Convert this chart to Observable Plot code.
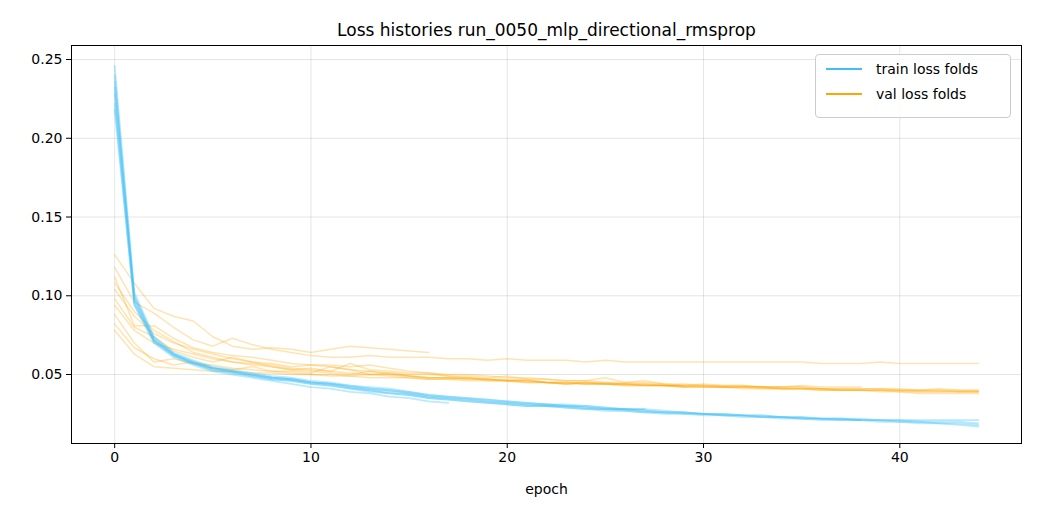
<!DOCTYPE html>
<html><head><meta charset="utf-8">
<script src="https://cdn.jsdelivr.net/npm/d3@7"></script>
<script src="https://cdn.jsdelivr.net/npm/@observablehq/plot@0.6"></script>
<style>body{margin:0;background:#fff;font-family:"DejaVu Sans",sans-serif}#wrap{position:relative;width:1040px;height:520px}
#legend{position:absolute;left:815px;top:54px;width:194px;height:62px;border:1px solid #ccc;border-radius:4px;background:rgba(255,255,255,0.85);font-size:14px}
.li{position:absolute;left:10px;display:flex;align-items:center}.li span{display:inline-block;width:36px;height:2px;margin-right:14px}</style>
</head><body><div id="wrap"><div id="legend">
<div class="li" style="top:6px"><span style="background:#40bff5"></span>train loss folds</div>
<div class="li" style="top:31px"><span style="background:#ffa500"></span>val loss folds</div></div></div>
<script>
const title = "Loss histories run_0050_mlp_directional_rmsprop";
const trainFolds = [
 [0.246,0.102,0.074,0.064,0.059,0.055,0.053,0.051,0.049,0.048,0.046,0.045,0.043,0.042,0.041,0.039,0.037,0.036,0.035,0.034,0.033,0.032,0.031,0.030,0.030,0.029,0.028,0.028,0.027,0.026,0.025,0.025,0.024,0.024,0.023,0.023,0.022,0.022,0.022,0.021,0.021,0.020,0.020,0.020,0.019],
 [0.236,0.098,0.072,0.063,0.058,0.054,0.052,0.050,0.048,0.047,0.045,0.044,0.042,0.040,0.039,0.038,0.036,0.035,0.034,0.033,0.032,0.031,0.030,0.030,0.029,0.028,0.028,0.027,0.026,0.026,0.025,0.024,0.024,0.023,0.023,0.022,0.022,0.021,0.021,0.021,0.020,0.020,0.019,0.019,0.018],
 [0.228,0.096,0.071,0.062,0.057,0.053,0.051,0.049,0.047,0.046,0.044,0.043,0.041,0.040,0.038,0.037,0.035,0.034,0.033,0.032,0.031,0.030,0.030,0.029,0.028,0.028,0.027,0.026,0.026,0.025,0.025,0.024,0.024,0.023,0.023,0.022,0.022,0.022,0.021,0.021,0.021,0.021,0.021,0.021,0.021],
 [0.222,0.094,0.070,0.061,0.056,0.052,0.050,0.048,0.046,0.044,0.042,0.041,0.039,0.038,0.036,0.035,0.033,0.032],
 [0.240,0.100,0.073,0.063,0.058,0.054,0.052,0.050,0.048,0.047,0.045,0.044,0.043,0.041,0.040,0.039,0.037,0.036,0.035,0.034,0.033,0.032,0.031,0.031,0.030,0.029,0.028,0.028],
 [0.232,0.099,0.072,0.063,0.057,0.054,0.052,0.050,0.048,0.047,0.045,0.044,0.042,0.041,0.040,0.038,0.036,0.035,0.034,0.033,0.032,0.031,0.031,0.030,0.029,0.028,0.028,0.027,0.026,0.026,0.025,0.025,0.024,0.024,0.023,0.023,0.022,0.022,0.021],
 [0.218,0.095,0.071,0.062,0.057,0.053,0.051,0.049,0.047,0.046,0.044,0.043,0.041,0.039,0.038,0.037,0.035,0.034,0.033,0.032,0.031,0.030,0.030,0.029,0.028,0.027,0.027,0.026,0.025,0.025,0.024,0.024,0.023,0.023,0.022,0.022,0.021,0.021,0.021,0.020,0.020,0.019,0.019,0.018,0.017]
];
const valFolds = [
 [0.126,0.108,0.092,0.087,0.084,0.074,0.068,0.066,0.067,0.066,0.064,0.066,0.068,0.067,0.066,0.065,0.064],
 [0.118,0.096,0.089,0.080,0.072,0.068,0.073,0.069,0.066,0.064,0.062,0.061,0.061,0.062,0.061,0.061,0.061,0.060,0.060,0.059,0.060,0.059,0.059,0.059,0.058,0.059,0.058,0.058,0.058,0.058,0.058,0.058,0.058,0.058,0.058,0.058,0.057,0.057,0.057,0.058,0.057,0.057,0.057,0.057,0.057],
 [0.112,0.081,0.081,0.073,0.067,0.064,0.062,0.061,0.059,0.057,0.056,0.055,0.053,0.052,0.051,0.050,0.050,0.049,0.048,0.047,0.047,0.046,0.045,0.045,0.044,0.044,0.044,0.043,0.043,0.042,0.042,0.042,0.042,0.041,0.041,0.041,0.040,0.040,0.040,0.040,0.040,0.039,0.039,0.039,0.039],
 [0.104,0.087,0.076,0.070,0.066,0.063,0.060,0.058,0.057,0.055,0.056,0.056,0.055,0.056,0.054,0.052,0.051,0.050,0.050,0.049,0.048,0.048,0.047,0.046,0.046,0.045,0.045,0.045,0.044,0.044,0.043,0.043,0.043,0.042,0.042,0.042,0.041,0.041,0.041,0.041,0.041,0.040,0.040,0.040,0.040],
 [0.098,0.080,0.074,0.065,0.061,0.058,0.061,0.058,0.055,0.053,0.054,0.052,0.057,0.053,0.052,0.051,0.051,0.049,0.049,0.048,0.049,0.047,0.047,0.046,0.046,0.048,0.045,0.046,0.044,0.043],
 [0.094,0.078,0.070,0.066,0.063,0.060,0.058,0.056,0.055,0.053,0.052,0.051,0.050,0.052,0.050,0.049,0.048,0.048,0.047,0.047,0.046,0.046,0.045,0.045,0.044,0.044,0.043,0.043,0.043,0.042,0.042,0.042,0.041,0.041,0.041,0.041,0.040,0.040,0.040,0.039,0.039,0.038,0.038,0.038,0.038],
 [0.088,0.070,0.058,0.060,0.057,0.056,0.054,0.053,0.052,0.052,0.051,0.055,0.053,0.050,0.051,0.049,0.048,0.048,0.048,0.047,0.046,0.047,0.045,0.044,0.045,0.045,0.044,0.044,0.043,0.043,0.044,0.043,0.043,0.042,0.042,0.043,0.042,0.042,0.042],
 [0.082,0.067,0.060,0.056,0.058,0.054,0.053,0.055,0.052,0.051,0.050,0.050,0.049,0.050,0.049,0.048,0.047,0.047,0.048,0.046,0.046,0.045,0.045,0.044,0.045,0.044,0.044,0.043,0.043,0.042,0.043,0.042,0.042,0.042,0.041,0.041,0.041,0.040,0.040,0.040,0.039,0.039,0.039,0.039,0.039],
 [0.078,0.063,0.055,0.054,0.053,0.052,0.052,0.051,0.051,0.050,0.050,0.049,0.049,0.048,0.048,0.048,0.047,0.047,0.046,0.046,0.046,0.045,0.045,0.044,0.044,0.044,0.043,0.043,0.043,0.043,0.042,0.042,0.042,0.042,0.041,0.041,0.041,0.040,0.040,0.040,0.040,0.040,0.040,0.039,0.039],
 [0.108,0.090,0.078,0.071,0.064,0.061,0.058,0.057,0.056,0.054,0.053,0.052,0.051,0.050,0.050,0.049,0.048,0.048,0.047,0.047,0.046,0.046,0.045,0.045,0.045,0.044,0.044,0.044,0.043,0.043,0.043,0.042,0.042,0.042,0.042,0.042,0.041,0.041,0.041,0.041,0.040,0.040,0.041,0.040,0.040]
];
const xTicks = [0,10,20,30,40];
const yTicks = [0.05,0.10,0.15,0.20,0.25];
const toRows = (folds) => folds.flatMap((f, k) => f.map((v, i) => ({fold: k, epoch: i, loss: v})));
const tr = toRows(trainFolds), va = toRows(valFolds);
const chart = Plot.plot({
  width: 1040, height: 520, marginLeft: 71, marginRight: 19, marginTop: 45, marginBottom: 77,
  style: {fontFamily: "DejaVu Sans, sans-serif", fontSize: "14px", color: "#000", background: "#fff"},
  x: {domain: [-2.2, 46.2], ticks: xTicks, tickFormat: d => d, label: "epoch", labelAnchor: "center", labelArrow: "none", labelOffset: 50, tickSize: 5},
  y: {domain: [0.0062, 0.2589], ticks: yTicks, tickFormat: d => d.toFixed(2), label: null, tickSize: 5},
  marks: [
    Plot.gridX(xTicks, {stroke: "#000", strokeOpacity: 0.1}),
    Plot.gridY(yTicks, {stroke: "#000", strokeOpacity: 0.1}),
    Plot.line(va, {x: "epoch", y: "loss", z: "fold", stroke: "#ffa500", strokeOpacity: 0.3, strokeWidth: 1.5}),
    Plot.line(tr, {x: "epoch", y: "loss", z: "fold", stroke: "#40bff5", strokeOpacity: 0.35, strokeWidth: 1.8}),
    Plot.frame({stroke: "#000"}),
    Plot.text([title], {frameAnchor: "top", dy: -22, fontSize: 17, fill: "#000"})
  ]
});
document.getElementById("wrap").prepend(chart);
</script></body></html>
